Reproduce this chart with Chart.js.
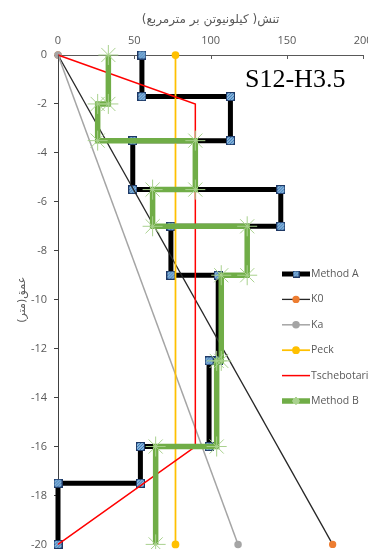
<!DOCTYPE html>
<html>
<head>
<meta charset="utf-8">
<script src="https://cdn.jsdelivr.net/npm/chart.js@4.4.0/dist/chart.umd.min.js"></script>
<style>
  html, body { margin: 0; padding: 0; background: #fff; overflow: hidden; }
  #wrap { position: relative; width: 368px; height: 549px; overflow: hidden; }
  #wrap canvas { position: absolute; left: 0; top: 0; }
</style>
</head>
<body>
<div id="wrap"><canvas id="myChart" width="380" height="558"></canvas></div>
<script>
// stress (kN/m2) against depth (m) for each method
const seriesNames = ['Method A', 'K0', 'Ka', 'Peck', 'Tschebotarioff', 'Method B'];

const methodAStress = [55, 55, 113, 113, 49, 49, 146, 146, 74, 74, 105, 105, 99, 99, 54, 54, 0, 0];
const methodADepth  = [0, -1.7, -1.7, -3.5, -3.5, -5.5, -5.5, -7, -7, -9, -9, -12.5, -12.5, -16, -16, -17.5, -17.5, -20];

const k0Stress = [0, 180];
const k0Depth  = [0, -20];

const kaStress = [0, 118];
const kaDepth  = [0, -20];

const peckStress = [77, 77];
const peckDepth  = [0, -20];

const tschebStress = [0, 90, 90, 0];
const tschebDepth  = [0, -2, -16, -20];

const methodBStress = [33, 33, 26, 26, 90, 90, 62, 62, 124, 124, 107, 107, 104, 104, 64, 64];
const methodBDepth  = [0, -2, -2, -3.5, -3.5, -5.5, -5.5, -7, -7, -9, -9, -12.5, -12.5, -16, -16, -20];

const xTicks = [0, 50, 100, 150, 200];
const yTicks = [0, -2, -4, -6, -8, -10, -12, -14, -16, -18, -20];

const xTitle = 'تنش( کیلونیوتن بر مترمربع)';
const yTitle = 'عمق(متر)';
const caption = 'S12-H3.5';

function toPoints(xs, ys) {
  return xs.map((x, i) => ({ x: x, y: ys[i] }));
}

// little blue hatched square used as the Method A marker
function hatchedSquare(size) {
  const c = document.createElement('canvas');
  c.width = size;
  c.height = size;
  const g = c.getContext('2d');
  g.fillStyle = '#bdd7ee';
  g.fillRect(0, 0, size, size);
  g.strokeStyle = '#2e75b6';
  g.lineWidth = 1.2;
  for (let k = -size; k < size * 2; k += 3) {
    g.beginPath();
    g.moveTo(k, size);
    g.lineTo(k + size, 0);
    g.stroke();
  }
  g.strokeStyle = '#1f3864';
  g.lineWidth = 1;
  g.strokeRect(0.5, 0.5, size - 1, size - 1);
  return c;
}

const squareMark = hatchedSquare(9);
const squareMarkSmall = hatchedSquare(7);

const datasets = [
  {
    label: seriesNames[0],
    data: toPoints(methodAStress, methodADepth),
    borderColor: '#000000',
    borderWidth: 5,
    pointStyle: squareMark,
    legendMark: squareMarkSmall,
    pointRadius: 4.5,
    order: 6
  },
  {
    label: seriesNames[1],
    data: toPoints(k0Stress, k0Depth),
    borderColor: '#262626',
    borderWidth: 1.3,
    pointStyle: 'circle',
    pointRadius: 3,
    pointBackgroundColor: '#ed7d31',
    pointBorderColor: '#ed7d31',
    order: 5
  },
  {
    label: seriesNames[2],
    data: toPoints(kaStress, kaDepth),
    borderColor: '#a5a5a5',
    borderWidth: 1.5,
    pointStyle: 'circle',
    pointRadius: 3,
    pointBackgroundColor: '#a5a5a5',
    pointBorderColor: '#a5a5a5',
    order: 4
  },
  {
    label: seriesNames[3],
    data: toPoints(peckStress, peckDepth),
    borderColor: '#ffc000',
    borderWidth: 1.75,
    pointStyle: 'circle',
    pointRadius: 3,
    pointBackgroundColor: '#ffc000',
    pointBorderColor: '#ffc000',
    order: 3
  },
  {
    label: seriesNames[4],
    data: toPoints(tschebStress, tschebDepth),
    borderColor: '#ff0000',
    borderWidth: 1.5,
    pointRadius: 0,
    order: 2
  },
  {
    label: seriesNames[5],
    data: toPoints(methodBStress, methodBDepth),
    borderColor: '#70ad47',
    borderWidth: 5.5,
    pointStyle: 'star',
    pointRadius: 10,
    pointBorderColor: '#a9d18e',
    pointBorderWidth: 1,
    legendRadius: 3,
    order: 1
  }
];

datasets.forEach(ds => {
  ds.showLine = true;
  ds.fill = false;
  ds.clip = false;
  ds.borderJoinStyle = 'miter';
});

// legend box drawn inside the plot, at the right
const sideLegend = {
  id: 'sideLegend',
  afterDraw(chart) {
    const ctx = chart.ctx;
    const x0 = 282, x1 = 310, top = 274, step = 25.4;
    ctx.save();
    chart.data.datasets.forEach((ds, i) => {
      const y = top + i * step;
      ctx.strokeStyle = ds.borderColor;
      ctx.lineWidth = ds.borderWidth;
      ctx.beginPath();
      ctx.moveTo(x0, y);
      ctx.lineTo(x1, y);
      ctx.stroke();
      if (ds.pointRadius > 0) {
        const style = ds.legendMark || ds.pointStyle;
        const r = ds.legendRadius || Math.min(ds.pointRadius, 3);
        ctx.fillStyle = ds.pointBackgroundColor || ds.borderColor;
        ctx.strokeStyle = ds.pointBorderColor || ds.borderColor;
        Chart.helpers.drawPoint(ctx, {
          pointStyle: style,
          radius: r,
          borderWidth: ds.pointBorderWidth || 1,
          rotation: 0
        }, (x0 + x1) / 2, y);
      }
      ctx.fillStyle = '#595959';
      ctx.font = '10.5px "Open Sans"';
      ctx.textBaseline = 'middle';
      ctx.textAlign = 'left';
      ctx.fillText(ds.label, x1 + 1, y);
    });

    // sheet caption
    ctx.fillStyle = '#000000';
    ctx.font = '26px "Liberation Serif"';
    ctx.textBaseline = 'alphabetic';
    ctx.fillText(caption, 245, 87);
    ctx.restore();
  }
};

// short tick marks pointing into the plot from the top axis
const innerTicks = {
  id: 'innerTicks',
  afterDraw(chart) {
    const ctx = chart.ctx;
    const xs = chart.scales.x;
    const top = chart.chartArea.top;
    ctx.save();
    ctx.strokeStyle = '#595959';
    ctx.lineWidth = 1;
    xTicks.forEach(v => {
      const px = Math.round(xs.getPixelForValue(v)) + 0.5;
      ctx.beginPath();
      ctx.moveTo(px, top);
      ctx.lineTo(px, top + 4);
      ctx.stroke();
    });
    ctx.restore();
  }
};

const config = {
  type: 'scatter',
  data: { datasets: datasets },
  options: {
    responsive: false,
    animation: false,
    layout: { padding: { left: 0, top: 0, right: 12, bottom: 8 } },
    plugins: {
      legend: { display: false },
      tooltip: { enabled: false }
    },
    scales: {
      x: {
        type: 'linear',
        position: 'top',
        min: 0,
        max: 200,
        afterBuildTicks: scale => { scale.ticks = xTicks.map(v => ({ value: v })); },
        afterFit: scale => { scale.height = 55; },
        ticks: {
          color: '#595959',
          font: { family: 'Open Sans', size: 11 },
          padding: 7.4,
          maxRotation: 0
        },
        grid: { display: false, drawTicks: false },
        border: { display: true, color: '#595959', width: 1 },
        title: {
          display: true,
          text: xTitle,
          color: '#595959',
          font: { family: 'DejaVu Sans', size: 12 },
          padding: { top: 12.8, bottom: 0 }
        }
      },
      y: {
        type: 'linear',
        min: -20,
        max: 0,
        afterBuildTicks: scale => { scale.ticks = yTicks.map(v => ({ value: v })); },
        afterFit: scale => { scale.width = 58; },
        ticks: {
          color: '#595959',
          font: { family: 'Open Sans', size: 11 },
          padding: 7
        },
        grid: {
          display: true,
          drawOnChartArea: false,
          drawTicks: true,
          tickLength: 4,
          tickColor: '#404040'
        },
        border: { display: true, color: '#404040', width: 1 },
        title: {
          display: true,
          text: yTitle,
          color: '#595959',
          font: { family: 'DejaVu Sans', size: 11 },
          padding: { top: 15.4, bottom: 0 }
        }
      }
    }
  },
  plugins: [sideLegend, innerTicks]
};

const myChart = new Chart(document.getElementById('myChart'), config);
</script>
</body>
</html>
